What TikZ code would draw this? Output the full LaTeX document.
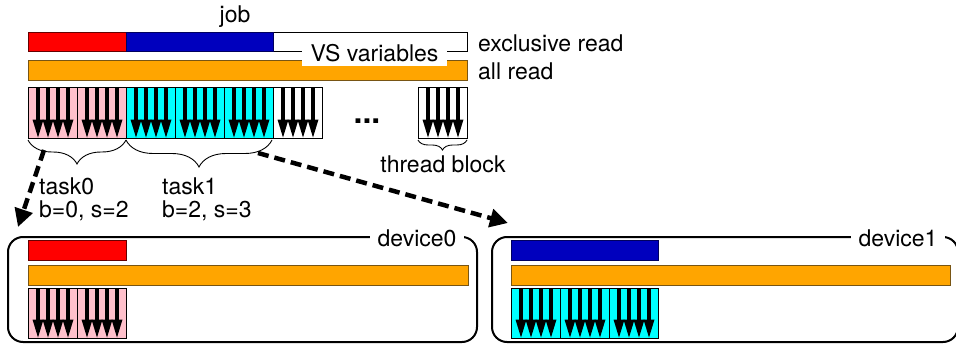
\documentclass[tikz,border=0pt]{standalone}
\usepackage{fontspec}
\setmainfont{TeX Gyre Heros}
\usetikzlibrary{arrows.meta,decorations.pathreplacing}
\definecolor{vsred}{RGB}{255,0,0}
\definecolor{vsblue}{RGB}{0,0,190}
\definecolor{vsorange}{RGB}{255,165,0}
\definecolor{vsorangeb}{RGB}{120,85,20}
\definecolor{vspink}{RGB}{255,192,203}
\definecolor{vscyan}{RGB}{0,255,255}
\tikzset{
  lbl/.style={font=\fontsize{23}{27}\selectfont, inner sep=0pt},
  barbox/.style={line width=0.9pt},
  redbar/.style={barbox, fill=vsred, draw=black!60!red},
  bluebar/.style={barbox, fill=vsblue, draw=black!50!vsblue},
  orangebar/.style={barbox, fill=vsorange, draw=vsorangeb},
  pics/tblk/.style={code={
    \fill[#1] (0,0) rectangle (49,50);
    \foreach \i in {0,1,2,3}{
      \fill[black] ({7.7+10*\i},0) rectangle ({12.3+10*\i},33);
      \fill[black] ({4.5+10*\i},31.5) -- ({15.5+10*\i},31.5) -- ({10+10*\i},49.5) -- cycle;
    }
    \draw[line width=1pt] (0,0) rectangle (49,50);
  }},
  brc/.style={decorate, decoration={brace, mirror, amplitude=#1}, line width=0.9pt},
  dev/.style={draw, line width=2pt, rounded corners=15pt},
  darrow/.style={line width=4.5pt, dash pattern=on 11pt off 6pt, -{Triangle[length=18pt,width=18pt]}},
}
\begin{document}
\begin{tikzpicture}[x=1pt,y=-1pt]
\useasboundingbox (0,0) rectangle (956,345);
% job
\node[lbl, anchor=base] (job) at (235,23) {job};
% exclusive read bar
\draw[barbox] (28,32) rectangle (467,51);
\draw[redbar] (28,32) rectangle (126,51);
\draw[bluebar] (126,32) rectangle (273,51);
% all read bar
\draw[orangebar] (28,60) rectangle (467,80);
\node[lbl, fill=white, minimum width=145pt, minimum height=26pt] (vs) at (374.5,53) {VS variables};
\node[lbl, anchor=base west] (excl) at (478,52) {exclusive read};
\node[lbl, anchor=base west] (allr) at (478,79) {all read};
% thread blocks
\pic at (28,88) {tblk=vspink};
\pic at (77,88) {tblk=vspink};
\pic at (126,88) {tblk=vscyan};
\pic at (175,88) {tblk=vscyan};
\pic at (224,88) {tblk=vscyan};
\pic at (273,88) {tblk=white};
\pic at (418,88) {tblk=white};
\node[lbl, anchor=base, font=\fontsize{32}{34}\selectfont\bfseries] (dots) at (367,123) {...};
% braces
\draw[brc=24pt] (28,140) -- (126,140);
\draw[brc=27pt] (126,140) -- (272,140);
\draw[brc=10pt] (418,140) -- (467,140);
\node[lbl, anchor=base] (tb) at (443,172) {thread block};
\node[lbl, anchor=base west] (t0) at (39,194) {task0};
\node[lbl, anchor=base west] (t0b) at (39,217) {b=0, s=2};
\node[lbl, anchor=base west] (t1) at (162,194) {task1};
\node[lbl, anchor=base west] (t1b) at (162,217) {b=2, s=3};
% arrows
\coordinate (s0) at (44,150);
\coordinate (e0) at (18,227);
\coordinate (s1) at (258,153);
\coordinate (e1) at (508,223);
\draw[darrow] (s0) -- (e0);
\draw[darrow] (s1) -- (e1);
% device0
\draw[dev] (8,237) rectangle (477,342);
\node[lbl, fill=white, inner xsep=8pt, inner ysep=3pt] (d0) at (417,238) {device0};
\draw[redbar] (28,240) rectangle (126,260);
\draw[orangebar] (28,265) rectangle (468,285);
\pic at (28,288) {tblk=vspink};
\pic at (77,288) {tblk=vspink};
% device1
\draw[dev] (492,237) rectangle (958,342);
\node[lbl, fill=white, inner xsep=8pt, inner ysep=3pt] (d1) at (898,238) {device1};
\draw[bluebar] (511,240) rectangle (658,260);
\draw[orangebar] (511,265) rectangle (950,285);
\pic at (511,288) {tblk=vscyan};
\pic at (560,288) {tblk=vscyan};
\pic at (609,288) {tblk=vscyan};
\end{tikzpicture}
\end{document}
